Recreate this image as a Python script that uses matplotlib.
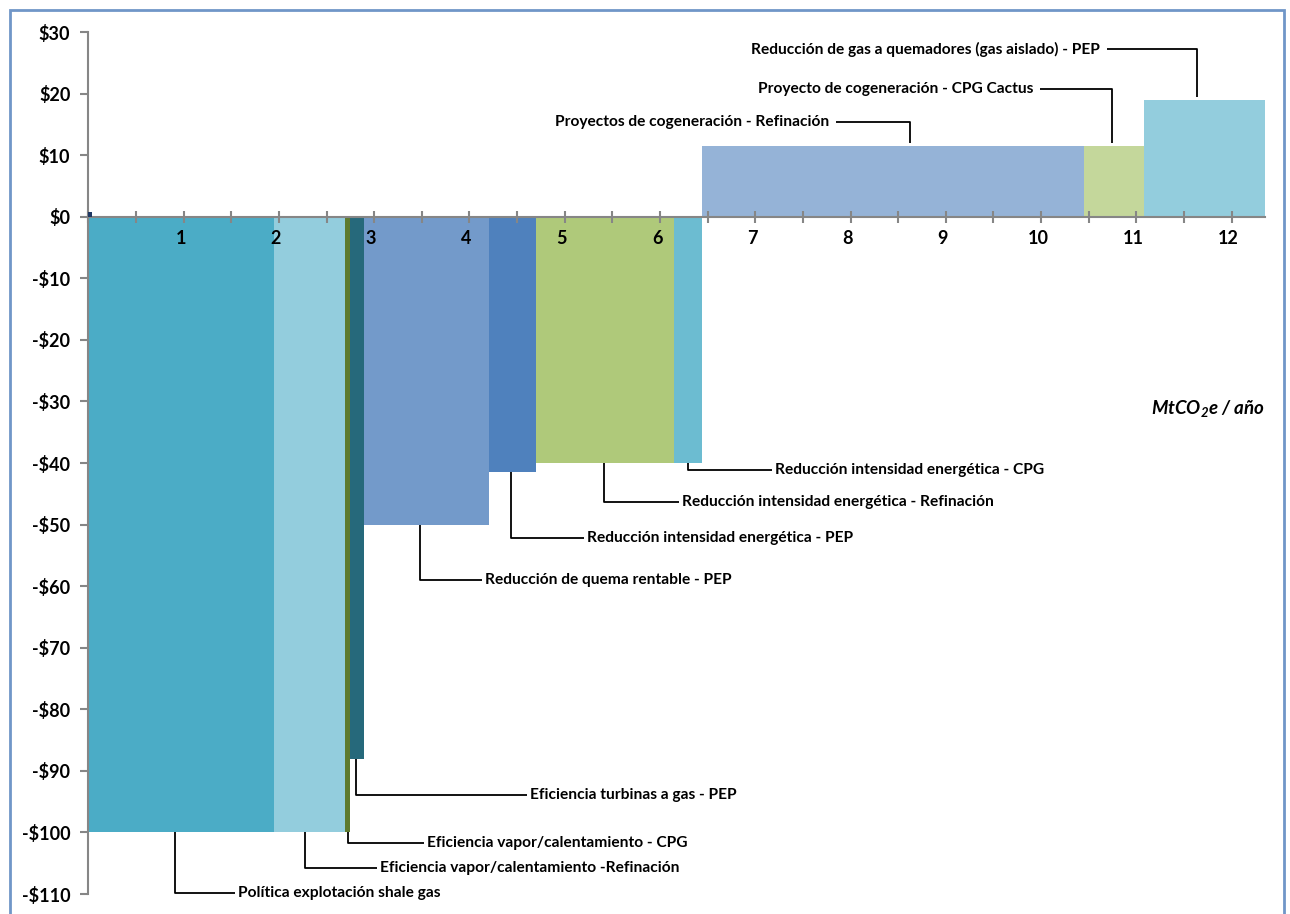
import matplotlib
matplotlib.use("Agg")
import matplotlib.pyplot as plt
import matplotlib.patches as mpatches
import matplotlib.transforms as mtransforms
from matplotlib.ticker import FuncFormatter, MultipleLocator
import numpy as np

plt.rcParams["font.family"] = ["Lato", "DejaVu Sans"]
plt.rcParams["mathtext.fontset"] = "custom"
plt.rcParams["mathtext.rm"] = "Lato:italic:bold"
plt.rcParams["mathtext.it"] = "Lato:italic:bold"

# abatement measures: potential (MtCO2e/año) and cost ($/tCO2e)
medidas = [
    "Política explotación shale gas",
    "Eficiencia vapor/calentamiento -Refinación",
    "Eficiencia vapor/calentamiento - CPG",
    "Eficiencia turbinas a gas - PEP",
    "Reducción de quema rentable - PEP",
    "Reducción intensidad energética - PEP",
    "Reducción intensidad energética - Refinación",
    "Reducción intensidad energética - CPG",
    "Proyectos de cogeneración - Refinación",
    "Proyecto de cogeneración - CPG Cactus",
    "Reducción de gas a quemadores (gas aislado) - PEP",
]
potencial = [1.95, 0.745, 0.05, 0.15, 1.31, 0.49, 1.45, 0.30, 4.01, 0.63, 1.26]
costo = [-100, -100, -100, -88, -50, -41.5, -40, -40, 11.5, 11.5, 19]
colores = ["#4BACC6", "#93CDDD", "#5E7A2E", "#26697B", "#739ACA",
           "#4F81BD", "#AFC97A", "#6CBCD1", "#95B3D7", "#C4D79B", "#93CDDD"]

# small marker sitting at the origin
marca_ancho = 0.04
marca_costo = 0.8

# leader line layout: (anchor x, elbow y, text x, side)
etiquetas = [
    (0.91, -109.8, 1.57, "below"),
    (2.27, -105.8, 3.06, "below"),
    (2.72, -101.7, 3.55, "below"),
    (2.81, -93.9, 4.63, "below"),
    (3.48, -59.0, 4.16, "below"),
    (4.44, -52.2, 5.23, "below"),
    (5.41, -46.3, 6.23, "below"),
    (6.29, -41.2, 7.21, "below"),
    (8.62, 15.4, 7.78, "above"),
    (10.74, 20.7, 9.92, "above"),
    (11.64, 27.2, 10.62, "above"),
]

W, H = 1290, 914
fig = plt.figure(figsize=(W / 100, H / 100), dpi=100)
ax = fig.add_axes([88.4 / W, 1 - 894 / H, (1265 - 88.4) / W, (894 - 32) / H])

izq = np.concatenate([[0], np.cumsum(potencial)[:-1]])
for x0, w, c, col in zip(izq, potencial, costo, colores):
    ax.add_patch(mpatches.Rectangle((x0, 0), w, c, facecolor=col, edgecolor="none", zorder=1))
ax.add_patch(mpatches.Rectangle((0, 0), marca_ancho, marca_costo, facecolor="#1F3864",
                                edgecolor="none", zorder=3))

ax.set_xlim(0, 12.35)
ax.set_ylim(-110, 30)

# leader lines and labels
for x0, c, nombre, lay in zip(izq, costo, medidas, etiquetas):
    xa, ye, xt, lado = lay
    if lado == "below":
        ax.plot([xa, xa, xt - 0.03], [c, ye, ye], color="black", lw=1.3,
                zorder=3, clip_on=False, solid_capstyle="butt")
        ax.text(xt, ye, nombre, ha="left", va="center", fontsize=11.2,
                fontweight="bold", zorder=4, clip_on=False)
    else:
        ax.plot([xt + 0.07, xa, xa], [ye, ye, c + 0.4], color="black", lw=1.3,
                zorder=3, clip_on=False, solid_capstyle="butt")
        ax.text(xt, ye, nombre, ha="right", va="center", fontsize=11.2,
                fontweight="bold", zorder=4, clip_on=False)

ax.text(12.35, -31.1, r"MtCO$_2$e / año", ha="right", va="center",
        fontsize=13.5, fontweight="bold", fontstyle="italic")

# axes styling
gris = "#868686"
for s in ["top", "right"]:
    ax.spines[s].set_visible(False)
ax.spines["left"].set_color(gris)
ax.spines["left"].set_linewidth(1.5)
ax.spines["bottom"].set_position(("data", 0))
ax.spines["bottom"].set_color(gris)
ax.spines["bottom"].set_linewidth(1.5)
ax.spines["bottom"].set_zorder(2.5)

ax.xaxis.set_major_locator(MultipleLocator(1))
ax.xaxis.set_minor_locator(MultipleLocator(0.5))
ax.set_xticks(range(1, 13))
ax.tick_params(axis="x", which="both", direction="inout", length=9, width=1.5,
               color=gris, pad=5)
ax.tick_params(axis="x", which="major", labelsize=13)
desplaza = mtransforms.ScaledTranslation(-3 / 100, 0, fig.dpi_scale_trans)
for lab in ax.get_xticklabels():
    lab.set_fontweight("bold")
    lab.set_transform(lab.get_transform() + desplaza)

ax.yaxis.set_major_locator(MultipleLocator(10))
ax.yaxis.set_major_formatter(FuncFormatter(lambda v, p: f"${v:.0f}" if v >= 0 else f"-${-v:.0f}"))
ax.tick_params(axis="y", direction="out", length=6, width=1.5, color=gris,
               labelsize=13, pad=7)
for lab in ax.get_yticklabels():
    lab.set_fontweight("bold")

# chart area border
fig.patches.append(mpatches.Rectangle((10 / W, -0.01), (1284 - 10) / W, 1 - 10 / H + 0.01,
                                      transform=fig.transFigure, fill=False,
                                      edgecolor="#7096C8", lw=2))

fig.savefig("out.png", dpi=100)
